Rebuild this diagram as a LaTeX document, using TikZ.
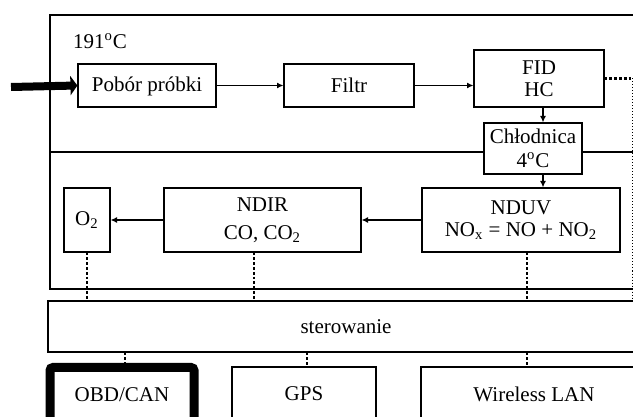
\documentclass[tikz,border=0pt]{standalone}
\usepackage{fontspec}
\setmainfont{Liberation Serif}
\usetikzlibrary{arrows.meta}

\begin{document}
\begin{tikzpicture}[x=0.5pt,y=-0.5pt,
    font=\fontsize{10.5}{11}\selectfont,
    blok/.style={draw, line width=0.6pt, fill=white, align=center, inner sep=0pt},
    strz/.style={-{Latex[length=3.2pt,width=3pt]}, line width=0.6pt},
    sygn/.style={densely dotted, line width=1.4pt}]
    \useasboundingbox (0,0) rectangle (633,417);
    \clip (0,0) rectangle (633,417);

    % analyser housing: heated part on top, cooled part below
    \draw[line width=0.6pt] (50,15) rectangle (660,289);
    \draw[line width=0.6pt] (50,152) -- (660,152);
    \node[anchor=west] (temp) at (66,41) {191\textsuperscript{o}C};

    \node[blok, minimum width=69pt, minimum height=21.5pt, text depth=1pt] (pobor) at (147,85.5) {Pobór próbki};
    \node[blok, minimum width=65pt, minimum height=21.5pt] (filtr) at (349,85.5) {Filtr};
    \node[blok, minimum width=65pt, minimum height=28.5pt] (fid) at (539,78.5) {FID\\HC};
    \node[blok, minimum width=49pt, minimum height=25.5pt] (chl) at (533,148.5) {Chłodnica\\[1pt]4\textsuperscript{o}C};
    \node[blok, minimum width=99pt, minimum height=32pt] (nduv) at (521,220) {NDUV\\NO\textsubscript{x} = NO + NO\textsubscript{2}};
    \node[blok, minimum width=98.5pt, minimum height=32pt] (ndir) at (262.5,220) {NDIR\\[3pt]CO, CO\textsubscript{2}};
    \node[blok, minimum width=23pt, minimum height=32pt] (o2) at (87,220) {O\textsubscript{2}};

    \node[blok, minimum width=298pt, minimum height=25.5pt] (ster) at (346,326.5) {sterowanie};

    \node[blok, line width=4.5pt, rounded corners=1.5pt, minimum width=72pt, minimum height=27.5pt] (obd) at (122,395) {OBD/CAN};
    \node[blok, minimum width=72pt, minimum height=27pt] (gps) at (304,394) {GPS};
    \node[blok, minimum width=113pt, minimum height=27pt] (wlan) at (534,394) {Wireless LAN};

    % gas path
    \coordinate (wej) at (11,87);
    \draw[line width=4pt, -{Triangle[length=3.5pt,width=9.5pt]}] (wej) -- (pobor.west);
    \draw[strz] (pobor) -- (filtr);
    \draw[strz] (filtr.east) -- (filtr.east -| fid.west);
    \coordinate (kol) at ([xshift=2pt]fid.south);
    \draw[strz] (kol) -- (kol |- chl.north);
    \draw[strz] (kol |- chl.south) -- (kol |- nduv.north);
    \draw[strz] (nduv) -- (ndir);
    \draw[strz] (ndir) -- (o2);

    % signal lines
    \coordinate (prawo) at (632,78.5);
    \draw[sygn] (fid.east) -- (prawo);
    \draw[densely dotted, line width=0.5pt] (prawo) -- (prawo |- ster.north);
    \draw[sygn] (o2.south) -- (o2.south |- ster.north);
    \coordinate (s1) at ([xshift=-4.25pt]ndir.south);
    \draw[sygn] (s1) -- (s1 |- ster.north);
    \coordinate (s2) at ([xshift=3pt]nduv.south);
    \draw[sygn] (s2) -- (s2 |- ster.north);
    \coordinate (s3) at ([xshift=1.5pt]ster.south -| obd.north);
    \draw[sygn] (s3) -- (s3 |- obd.north);
    \coordinate (s4) at ([xshift=1.5pt]ster.south -| gps.north);
    \draw[sygn] (s4) -- (s4 |- gps.north);
    \draw[sygn] (s2 |- ster.south) -- (s2 |- wlan.north);
\end{tikzpicture}
\end{document}
